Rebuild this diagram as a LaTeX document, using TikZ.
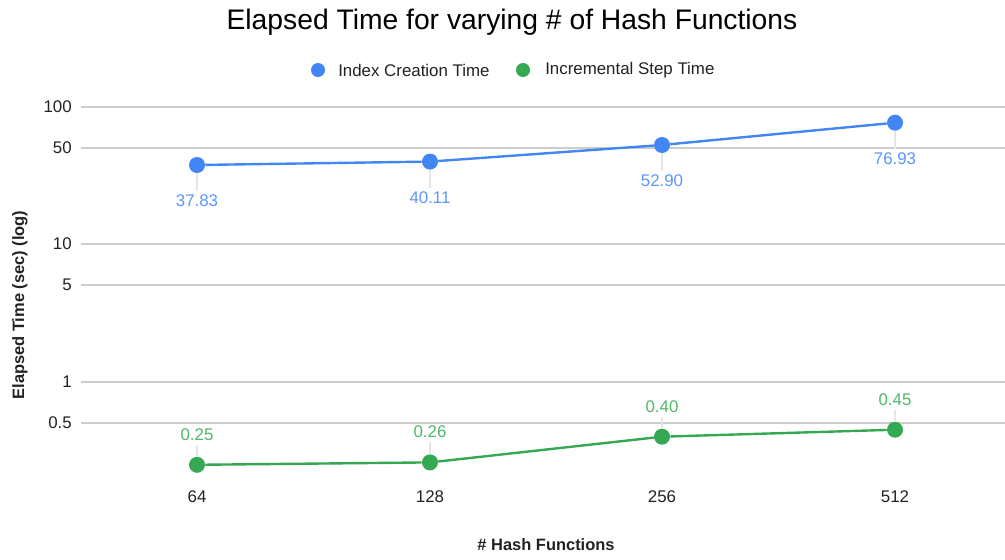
\documentclass[tikz,border=0pt]{standalone}
\usepackage{fontspec}
\setmainfont{Liberation Sans}
\definecolor{idxblue}{HTML}{4285F4}
\definecolor{stepgreen}{HTML}{34A853}
\definecolor{idxlbl}{HTML}{5C97F6}
\definecolor{steplbl}{HTML}{4DB866}
\definecolor{gridgray}{HTML}{CCCCCC}
\definecolor{leadgray}{HTML}{E6E6E6}
\definecolor{txtgray}{HTML}{222222}
\tikzset{
  grid line/.style={draw=gridgray, line width=0.8pt},
  leader/.style={draw=leadgray, line width=0.8pt},
  tick lbl/.style={text=txtgray, font=\fontsize{12}{14}\selectfont, inner sep=0pt},
  dot/.style={circle, inner sep=0pt, minimum size=0.4cm},
  series/.style={line width=1.7pt},
}
\begin{document}
\begin{tikzpicture}[x=0.025cm, y=-0.025cm]
  \useasboundingbox (0,0) rectangle (1005,559);
  % title and legend
  \node[text=black, font=\fontsize{20.1}{23}\selectfont] (title) at (512,22) {Elapsed Time for varying \# of Hash Functions};
  \node[circle, fill=idxblue, inner sep=0pt, minimum size=0.35cm] (legI) at (318,70) {};
  \node[tick lbl, anchor=west] (legItxt) at (338,70) {Index Creation Time};
  \node[circle, fill=stepgreen, inner sep=0pt, minimum size=0.35cm] (legS) at (523,70) {};
  \node[tick lbl, anchor=west] (legStxt) at (545,70) {Incremental Step Time};
  % log grid
  \draw[grid line] (81,107) -- (1005,107);
  \draw[grid line] (81,148) -- (1005,148);
  \draw[grid line] (81,244) -- (1005,244);
  \draw[grid line] (81,285) -- (1005,285);
  \draw[grid line] (81,382) -- (1005,382);
  \draw[grid line] (81,423) -- (1005,423);
  \node[tick lbl, anchor=east] (y100) at (72,107) {100};
  \node[tick lbl, anchor=east] (y50) at (72,148) {50};
  \node[tick lbl, anchor=east] (y10) at (72,244) {10};
  \node[tick lbl, anchor=east] (y5) at (72,285) {5};
  \node[tick lbl, anchor=east] (y1) at (72,382) {1};
  \node[tick lbl, anchor=east] (y05) at (72,423) {0.5};
  \node[tick lbl] (x64) at (197,497) {64};
  \node[tick lbl] (x128) at (430,497) {128};
  \node[tick lbl] (x256) at (662,497) {256};
  \node[tick lbl] (x512) at (895,497) {512};
  \node[text=txtgray, font=\bfseries\fontsize{11.7}{14}\selectfont] (xtitle) at (546,545) {\# Hash Functions};
  \node[text=txtgray, font=\bfseries\fontsize{11.7}{14}\selectfont, rotate=90] (ytitle) at (20,305) {Elapsed Time (sec) (log)};
  % index creation time
  \node[dot, fill=idxblue] (I0) at (197,165) {};
  \node[dot, fill=idxblue] (I1) at (430,161.6) {};
  \node[dot, fill=idxblue] (I2) at (662,145) {};
  \node[dot, fill=idxblue] (I3) at (895,122.7) {};
  \node[tick lbl, text=idxlbl, inner sep=3pt] (I0l) at (197,201) {37.83};
  \node[tick lbl, text=idxlbl, inner sep=3pt] (I1l) at (430,198) {40.11};
  \node[tick lbl, text=idxlbl, inner sep=3pt] (I2l) at (662,181) {52.90};
  \node[tick lbl, text=idxlbl, inner sep=3pt] (I3l) at (895,159) {76.93};
  \draw[leader] (I0) -- (I0l);
  \draw[leader] (I1) -- (I1l);
  \draw[leader] (I2) -- (I2l);
  \draw[leader] (I3) -- (I3l);
  \draw[series, idxblue] (I0) -- (I1) -- (I2) -- (I3);
  % incremental step time
  \node[dot, fill=stepgreen] (S0) at (197,464.8) {};
  \node[dot, fill=stepgreen] (S1) at (430,462.4) {};
  \node[dot, fill=stepgreen] (S2) at (662,436.7) {};
  \node[dot, fill=stepgreen] (S3) at (895,429.7) {};
  \node[tick lbl, text=steplbl, inner sep=3pt] (S0l) at (197,435) {0.25};
  \node[tick lbl, text=steplbl, inner sep=3pt] (S1l) at (430,432) {0.26};
  \node[tick lbl, text=steplbl, inner sep=3pt] (S2l) at (662,407) {0.40};
  \node[tick lbl, text=steplbl, inner sep=3pt] (S3l) at (895,400) {0.45};
  \draw[leader] (S0) -- (S0l);
  \draw[leader] (S1) -- (S1l);
  \draw[leader] (S2) -- (S2l);
  \draw[leader] (S3) -- (S3l);
  \draw[series, stepgreen] (S0) -- (S1) -- (S2) -- (S3);
\end{tikzpicture}
\end{document}
